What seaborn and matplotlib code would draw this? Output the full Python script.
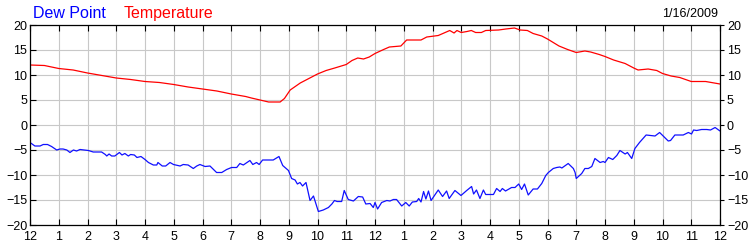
import matplotlib
matplotlib.use("Agg")
import matplotlib.pyplot as plt
import seaborn as sns
import pandas as pd

# ---- data (hours since midnight, degrees) ----
temp_hours = [0.0, 0.5, 1.0, 1.5, 2.0, 2.5, 3.0, 3.5, 4.0, 4.5, 5.0, 5.5, 6.0, 6.5, 7.0,
              7.5, 7.7, 8.0, 8.3, 8.7, 8.85, 9.05, 9.4, 9.7, 10.0, 10.3, 10.6, 11.0, 11.2,
              11.4, 11.6, 11.8, 12.0, 12.3, 12.5, 12.9, 13.1, 13.6, 13.8, 14.2, 14.4, 14.6,
              14.75, 14.85, 15.0, 15.2, 15.35, 15.5, 15.7, 15.85, 16.3, 16.55, 16.85, 17.05,
              17.3, 17.5, 17.8, 18.0, 18.2, 18.4, 18.7, 19.0, 19.3, 19.5, 19.8, 20.0, 20.3,
              20.7, 21.0, 21.15, 21.5, 21.8, 22.0, 22.3, 22.6, 23.0, 23.5, 24.0]
temp_values = [12.0, 11.9, 11.3, 11.0, 10.4, 9.9, 9.4, 9.1, 8.7, 8.5, 8.1, 7.6, 7.2, 6.8, 6.2,
               5.7, 5.4, 5.0, 4.6, 4.6, 5.3, 7.0, 8.4, 9.3, 10.2, 10.9, 11.4, 12.1, 12.9,
               13.4, 13.2, 13.6, 14.3, 15.1, 15.6, 15.8, 17.0, 17.0, 17.6, 17.9, 18.4, 18.9,
               18.4, 18.9, 18.5, 18.7, 18.9, 18.5, 18.5, 18.9, 19.0, 19.2, 19.4, 19.0,
               18.9, 18.3, 17.8, 17.2, 16.5, 15.8, 15.1, 14.5, 14.8, 14.6, 14.1, 13.7, 13.0,
               12.3, 11.4, 11.0, 11.2, 10.9, 10.3, 9.8, 9.5, 8.7, 8.7, 8.2]

dew_hours = [0.0, 0.17, 0.35, 0.46, 0.61, 0.75, 0.93, 1.04, 1.15, 1.28, 1.39, 1.51, 1.62, 1.74,
             2.03, 2.2, 2.49, 2.62, 2.67, 2.75, 2.84, 2.95, 3.11, 3.2, 3.3, 3.42, 3.5, 3.63,
             3.72, 3.86, 4.0, 4.12, 4.29, 4.41, 4.45, 4.6, 4.72, 4.87, 4.99, 5.22, 5.33, 5.5,
             5.68, 5.8, 5.91, 6.09, 6.26, 6.49, 6.67, 6.84, 7.01, 7.19, 7.3, 7.42, 7.65, 7.75,
             7.88, 7.97, 8.09, 8.46, 8.66, 8.79, 8.99, 9.1, 9.22, 9.3, 9.39, 9.48, 9.6, 9.74,
             9.86, 10.03, 10.2, 10.38, 10.5, 10.59, 10.68, 10.84, 10.93, 11.07, 11.25, 11.42,
             11.57, 11.68, 11.83, 11.94, 12.0, 12.09, 12.23, 12.41, 12.52, 12.64, 12.75, 12.93,
             13.07, 13.19, 13.3, 13.45, 13.52, 13.6, 13.69, 13.77, 13.86, 13.95, 14.2, 14.35,
             14.49, 14.58, 14.78, 14.99, 15.19, 15.36, 15.43, 15.53, 15.65, 15.77, 15.85,
             16.12, 16.23, 16.35, 16.43, 16.54, 16.75, 16.87, 17.0, 17.1, 17.2, 17.33, 17.5,
             17.65, 17.8, 17.94, 18.03, 18.2, 18.32, 18.43, 18.5, 18.6, 18.72, 18.9, 18.96,
             19.0, 19.19, 19.3, 19.42, 19.54, 19.65, 19.83, 19.94, 20.0, 20.12, 20.27, 20.41,
             20.52, 20.7, 20.78, 20.93, 21.04, 21.2, 21.43, 21.6, 21.74, 21.9, 22.04, 22.2,
             22.28, 22.43, 22.72, 22.9, 23.01, 23.08, 23.19, 23.36, 23.54, 23.67, 23.83, 24.0]
dew_values = [-3.5, -4.2, -4.2, -3.9, -3.9, -4.3, -5.0, -4.8, -4.8, -5.0, -5.5, -5.0, -5.2, -4.9,
              -5.1, -5.4, -5.4, -5.9, -6.2, -5.8, -6.2, -6.2, -5.5, -6.0, -5.7, -6.2, -5.9, -6.0,
              -6.5, -6.3, -6.9, -7.5, -8.0, -8.0, -7.5, -8.2, -8.2, -7.5, -7.9, -8.2, -7.9, -8.0,
              -8.7, -8.2, -7.9, -8.3, -8.2, -9.5, -9.5, -8.9, -8.5, -8.5, -7.7, -8.0, -7.1, -7.9,
              -7.5, -7.9, -7.0, -7.0, -6.3, -8.1, -9.1, -10.7, -11.0, -11.8, -11.5, -12.2, -11.5, -15.1,
              -14.2, -17.3, -17.0, -16.5, -15.8, -15.1, -15.3, -15.3, -13.1, -14.9, -15.2, -14.3,
              -14.4, -15.8, -15.7, -16.5, -15.5, -16.8, -15.5, -15.1, -15.2, -14.9, -14.9, -16.2,
              -15.5, -16.2, -15.4, -15.3, -14.7, -15.4, -13.3, -14.8, -13.2, -15.1, -13.0, -14.3,
              -13.2, -14.7, -13.1, -14.1, -13.1, -12.3, -13.8, -13.0, -14.7, -13.0, -13.9,
              -13.9, -12.7, -13.3, -12.7, -13.2, -12.5, -12.5, -11.8, -12.9, -11.8, -14.0, -12.8,
              -12.8, -11.7, -10.1, -9.5, -8.7, -8.5, -8.4, -8.6, -8.2, -7.7, -8.7, -9.5,
              -10.7, -9.7, -8.7, -8.7, -8.3, -6.7, -7.5, -7.3, -7.5, -6.5, -6.9, -6.1,
              -5.1, -5.8, -5.5, -6.7, -4.7, -3.5, -2.0, -2.1, -2.2, -1.5, -2.3, -3.2,
              -3.1, -2.0, -2.0, -1.5, -1.8, -1.0, -1.1, -0.9, -0.9, -1.0, -0.5, -1.2]

hour_ticks = list(range(0, 25))
hour_labels = ["12", "1", "2", "3", "4", "5", "6", "7", "8", "9", "10", "11",
               "12", "1", "2", "3", "4", "5", "6", "7", "8", "9", "10", "11", "12"]
y_ticks = [-20, -15, -10, -5, 0, 5, 10, 15, 20]
series_names = ["Dew Point", "Temperature"]
date_label = "1/16/2009"

temp_df = pd.DataFrame({"hour": temp_hours, "value": temp_values})
dew_df = pd.DataFrame({"hour": dew_hours, "value": dew_values})

sns.set_style("white")
plt.rcParams["font.family"] = ["Liberation Sans", "DejaVu Sans"]

fig = plt.figure(figsize=(7.5, 2.5), dpi=100)
ax = fig.add_axes([30 / 750, 25 / 250, 690 / 750, 200 / 250])

sns.lineplot(data=temp_df, x="hour", y="value", ax=ax, color="#ff0000",
             linewidth=0.9, legend=False, estimator=None)
sns.lineplot(data=dew_df, x="hour", y="value", ax=ax, color="#1010ff",
             linewidth=0.9, legend=False, estimator=None)

ax.set_xlim(0, 24)
ax.set_ylim(-20, 20)
ax.set_xticks(hour_ticks)
ax.set_xticklabels(hour_labels)
ax.set_yticks(y_ticks)
ax.set_xlabel("")
ax.set_ylabel("")
ax.grid(True, color="#c8c8c8", linewidth=0.8)
ax.set_axisbelow(True)
for s in ax.spines.values():
    s.set_color("black")
    s.set_linewidth(0.9)

ax.tick_params(axis="x", direction="in", length=4, width=0.8, top=True, bottom=True,
               labelsize=9, pad=4, colors="black")
ax.tick_params(axis="y", direction="in", length=4, width=0.8, left=True, right=False,
               labelsize=9, pad=2, colors="black")

ax2 = ax.twinx()
ax2.set_ylim(-20, 20)
ax2.set_yticks(y_ticks)
ax2.tick_params(axis="y", direction="out", length=3, width=0.8, labelsize=9, pad=2,
                colors="black")
ax2.grid(False)
for s in ax2.spines.values():
    s.set_visible(False)

fig.text(33 / 750, 1 - 18 / 250, series_names[0], color="#0000ff", fontsize=11.5,
         va="baseline", ha="left")
fig.text(124 / 750, 1 - 18 / 250, series_names[1], color="#ff0000", fontsize=11.5,
         va="baseline", ha="left")
fig.text(718 / 750, 1 - 17 / 250, date_label, color="black", fontsize=9,
         va="baseline", ha="right")

fig.savefig("out.png", dpi=100)
